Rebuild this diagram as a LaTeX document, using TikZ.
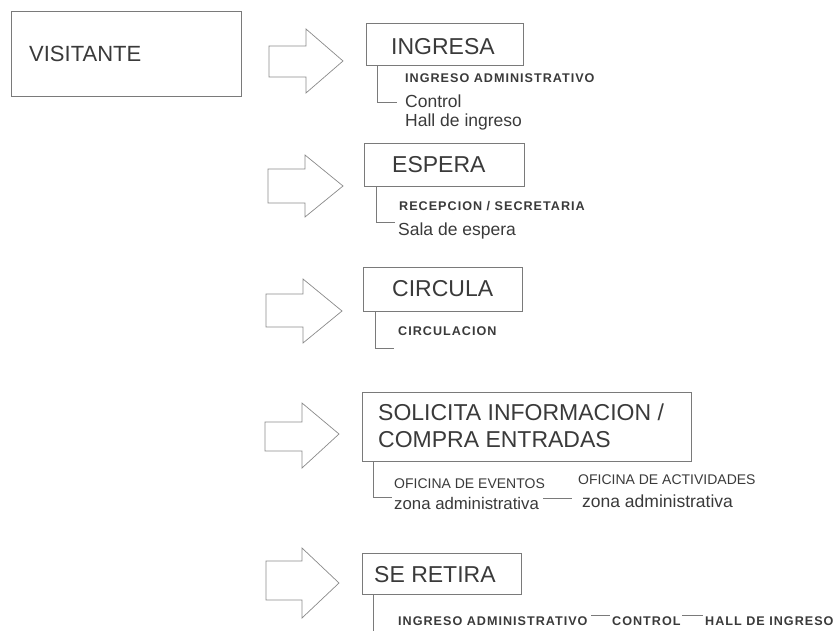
\documentclass[tikz,border=0pt]{standalone}
\usepackage{fontspec}
\setmainfont{Liberation Sans}
\newfontfamily\spacedfont[LetterSpace=8]{Liberation Sans}
\definecolor{txt}{HTML}{3A3A3A}
\definecolor{boxline}{HTML}{7A7A7A}
\definecolor{arrline}{HTML}{8A8A8A}
\newcommand\titlefont{\fontsize{23}{27.5}\selectfont}
\newcommand\subfont{\fontsize{17.5}{20}\selectfont}
\newcommand\tagfont{\spacedfont\bfseries\fontsize{12.6}{14}\selectfont}
\newcommand\capfont{\fontsize{14}{16}\selectfont}
\newcommand\blockarr[8]{\draw[barrow] (#1,#2) -- (#4,#2) -- (#4,#5) -- (#7,#8) -- (#4,#6) -- (#4,#3) -- (#1,#3) -- cycle;}
\begin{document}
\begin{tikzpicture}[x=1pt,y=-1pt,
  box/.style={draw=boxline,line width=0.8pt,rectangle,anchor=north west,inner sep=0pt},
  title/.style={anchor=base west,inner sep=0pt,text=txt,font=\titlefont},
  sub/.style={anchor=base west,inner sep=0pt,text=txt,font=\subfont},
  tagtext/.style={anchor=base west,inner sep=0pt,text=txt,font=\tagfont},
  captext/.style={anchor=base west,inner sep=0pt,text=txt,font=\capfont},
  brack/.style={draw=boxline,line width=0.8pt},
  barrow/.style={draw=arrline,line width=0.7pt,line join=miter}]
\useasboundingbox (0,0) rectangle (838,631);

% VISITANTE
\node[box,minimum width=230pt,minimum height=85pt] (visit) at (11,11) {};
\node[title,font=\fontsize{22}{26}\selectfont] (visitT) at (29,62) {VISITANTE};

% arrows
\blockarr{269}{46}{77}{306}{29}{93}{343}{61}
\blockarr{268}{169}{203}{305}{155}{217}{343}{186}
\blockarr{266}{294}{327}{303}{279}{343}{342}{311}
\blockarr{265}{422}{451}{302}{403}{468}{339}{434}
\blockarr{266}{561}{600}{302}{548}{618}{339}{583}

% INGRESA
\node[box,minimum width=157pt,minimum height=42pt] (ingresa) at (366,23) {};
\node[title] (ingresaT) at (391,55) {INGRESA};
\coordinate (c1) at (397,102);
\draw[brack] ([xshift=11pt]ingresa.south west) |- (c1);
\node[tagtext] (t1a) at (405,83) {INGRESO ADMINISTRATIVO};
\node[sub] (t1b) at (405,108) {Control};
\node[sub] (t1c) at (405,127) {Hall de ingreso};

% ESPERA
\node[box,minimum width=160pt,minimum height=43pt] (espera) at (364,143) {};
\node[title] (esperaT) at (392,173) {ESPERA};
\coordinate (c2) at (395,222);
\draw[brack] ([xshift=12pt]espera.south west) |- (c2);
\node[tagtext] (t2a) at (399,211) {RECEPCION / SECRETARIA};
\node[sub] (t2b) at (398,236) {Sala de espera};

% CIRCULA
\node[box,minimum width=159pt,minimum height=44pt] (circula) at (363,267) {};
\node[title] (circulaT) at (392,296) {CIRCULA};
\coordinate (c3) at (394,348);
\draw[brack] ([xshift=12pt]circula.south west) |- (c3);
\node[tagtext] (t3a) at (398,335.5) {CIRCULACION};

% SOLICITA
\node[box,minimum width=329pt,minimum height=69pt] (solicita) at (362,392) {};
\node[title] (solicitaT1) at (378,420) {SOLICITA INFORMACION /};
\node[title] (solicitaT2) at (378,447) {COMPRA ENTRADAS};
\coordinate (c4) at (392,497);
\draw[brack] ([xshift=11pt]solicita.south west) |- (c4);
\node[captext] (t4a) at (394,488) {OFICINA DE EVENTOS};
\node[sub,font=\fontsize{16.8}{19}\selectfont] (t4b) at (394,509) {zona administrativa};
\node[captext] (t4c) at (578,484) {OFICINA DE ACTIVIDADES};
\node[sub] (t4d) at (582,507) {zona administrativa};
\coordinate (d4a) at (543,498);
\coordinate (d4b) at (572,498);
\draw[brack] (d4a) -- (d4b);

% SE RETIRA
\node[box,minimum width=159pt,minimum height=41pt] (retira) at (362,553) {};
\node[title] (retiraT) at (374,582) {SE RETIRA};
\coordinate (c5) at (373,631);
\draw[brack] ([xshift=11pt]retira.south west) -- (c5);
\node[tagtext] (t5a) at (398,625) {INGRESO ADMINISTRATIVO};
\node[tagtext] (t5b) at (612,625) {CONTROL};
\node[tagtext] (t5c) at (705,625) {HALL DE INGRESO};
\coordinate (d5a) at (591,615);
\coordinate (d5b) at (610,615);
\coordinate (d5c) at (682,615);
\coordinate (d5d) at (703,615);
\draw[brack] (d5a) -- (d5b);
\draw[brack] (d5c) -- (d5d);
\end{tikzpicture}
\end{document}
